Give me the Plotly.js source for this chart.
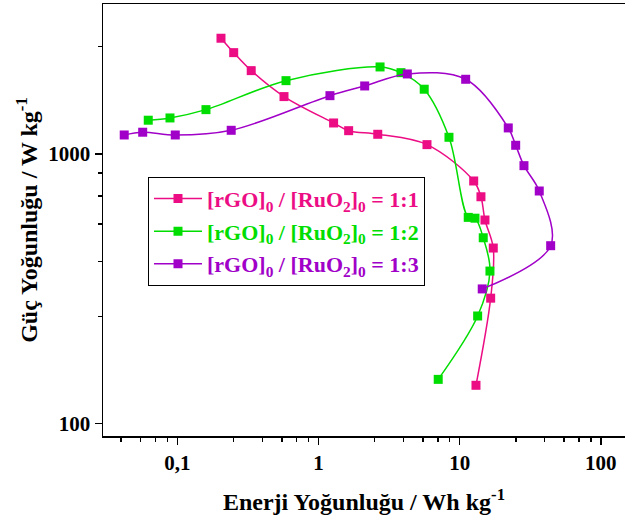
<!DOCTYPE html>
<html>
<head>
<meta charset="utf-8">
<script src="https://cdn.plot.ly/plotly-3.0.1.min.js"></script>
<style>html,body{margin:0;padding:0;background:#fff;}#chart{width:625px;height:523px;}</style>
</head>
<body>
<div id="chart"></div>
<script>
// Series 1:1
const energy11 = [0.204, 0.251, 0.334, 0.570, 1.28, 1.636, 2.63, 5.87, 12.57, 14.15, 15.11, 17.3, 16.58, 13.05];
const power11  = [2686, 2375, 2037, 1632, 1303, 1220, 1183, 1083, 794, 694, 569, 448, 292, 138.8];
// Series 1:2
const energy12 = [0.0623, 0.0888, 0.1597, 0.589, 2.73, 3.84, 5.61, 8.40, 11.5, 12.84, 14.69, 16.39, 13.41, 7.05];
const power12  = [1334, 1360, 1460, 1870, 2102, 2002, 1738, 1153, 582, 578, 489, 368, 250.8, 146];
// Series 1:3
const energy13 = [0.0421, 0.0569, 0.0968, 0.241, 1.206, 2.125, 4.26, 11.03, 22.09, 24.93, 28.54, 36.62, 44.11, 14.45];
const power13  = [1176, 1204, 1176, 1224, 1645, 1787, 1980, 1892, 1249, 1077, 905, 729, 457, 316];

const seriesNames = ['1:1', '1:2', '1:3'];
const xTickVals = [0.1, 1, 10, 100];
const xTickText = ['0,1', '1', '10', '100'];
const yTickVals = [100, 1000];
const yTickText = ['100', '1000'];
const xMinorVals = [0.04, 0.055, 0.07, 0.085, 0.25, 0.4, 0.55, 0.7, 0.85, 2.5, 4, 5.5, 7, 8.5, 25, 40, 55, 70, 85];
const yMinorVals = [250, 400, 550, 700, 850, 2500];

const colors = ['#EC0C84', '#00DD00', '#A000C8'];
const xs = [energy11, energy12, energy13];
const ys = [power11, power12, power13];

const traces = xs.map((x, i) => ({
  x: x, y: ys[i],
  type: 'scatter', mode: 'lines+markers',
  name: '<span style="color:' + colors[i] + '">[rGO]<sub>0</sub> / [RuO<sub>2</sub>]<sub>0</sub> = ' + seriesNames[i] + '</span>',
  legendgroup: 'g' + i,
  line: {color: colors[i], width: 1.5, shape: 'spline', smoothing: 1},
  marker: {symbol: 'square', size: 9, color: colors[i]}
}));

const fontFam = 'Liberation Serif, Times New Roman, serif';

const layout = {
  width: 625, height: 523,
  margin: {l: 103, r: 0, t: 4, b: 87},
  paper_bgcolor: '#fff', plot_bgcolor: '#fff',
  font: {family: fontFam, color: '#000', weight: 'bold'},
  showlegend: true,
  legend: {
    x: 0.0862, y: 0.600, xanchor: 'left', yanchor: 'top',
    bordercolor: '#000', borderwidth: 1, bgcolor: '#fff',
    font: {family: fontFam, size: 22, weight: 'bold'},
    itemwidth: 48,
    tracegroupgap: 1
  },
  xaxis: {
    type: 'log', range: [-1.526, 2.171],
    showline: true, linecolor: '#000', linewidth: 1.5, mirror: true,
    showgrid: false, zeroline: false,
    ticks: 'outside', ticklen: 7, tickwidth: 1.5, tickcolor: '#000',
    tickmode: 'array', tickvals: xTickVals, ticktext: xTickText,
    tickfont: {family: fontFam, size: 21, weight: 'bold'},
    minor: {tickmode: 'array', tickvals: xMinorVals, ticks: 'outside', ticklen: 4, tickwidth: 1.5, tickcolor: '#000', showgrid: false},
    title: {text: 'Enerji Yoğunluğu / Wh kg<sup>-1</sup>', font: {family: fontFam, size: 24, weight: 'bold'}, standoff: 19},
    automargin: false
  },
  yaxis: {
    type: 'log', range: [1.9544, 3.556],
    showline: true, linecolor: '#000', linewidth: 1.5, mirror: false,
    showgrid: false, zeroline: false,
    ticks: 'outside', ticklen: 7, tickwidth: 1.5, tickcolor: '#000',
    tickmode: 'array', tickvals: yTickVals, ticktext: yTickText,
    tickfont: {family: fontFam, size: 21, weight: 'bold'},
    minor: {tickmode: 'array', tickvals: yMinorVals, ticks: 'outside', ticklen: 4, tickwidth: 1.5, tickcolor: '#000', showgrid: false},
    title: {text: 'Güç Yoğunluğu / W kg<sup>-1</sup>', font: {family: fontFam, size: 24, weight: 'bold'}, standoff: 4},
    automargin: false
  }
};

Plotly.newPlot('chart', traces, layout, {displayModeBar: false, staticPlot: true});
</script>
</body>
</html>
